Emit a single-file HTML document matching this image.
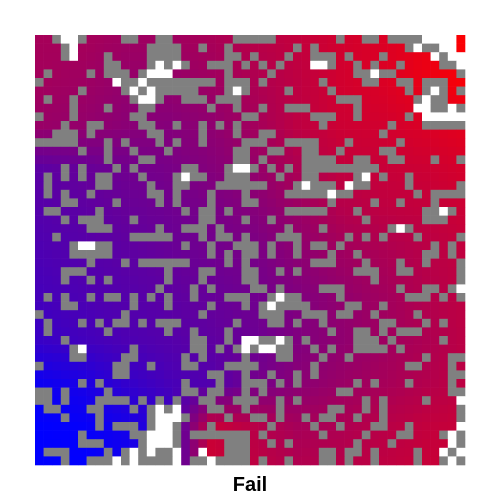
<!DOCTYPE html>
<html><head><meta charset="utf-8"><style>
html,body{margin:0;padding:0;background:#fff;width:500px;height:500px;overflow:hidden}
svg{display:block}
</style></head><body>
<svg id="chart" width="500" height="500">
<g id="cells"></g>
<text x="250" y="491" text-anchor="middle" font-family="Liberation Sans, sans-serif" font-weight="bold" font-size="20" fill="#000">Fail</text>
</svg>
<script>
// coarse value field nodes (0 = blue, 1 = red), 11x11 nodes every 5 cells
const valueNodes = [
[0.65,0.65,0.62,0.62,0.66,0.72,0.76,0.82,0.86,0.92,1.0],
[0.64,0.62,0.58,0.58,0.62,0.68,0.74,0.82,0.86,0.92,0.98],
[0.6,0.58,0.54,0.52,0.56,0.64,0.74,0.8,0.82,0.86,0.9],
[0.36,0.4,0.44,0.47,0.52,0.58,0.68,0.76,0.78,0.8,0.84],
[0.33,0.36,0.4,0.43,0.47,0.52,0.6,0.7,0.74,0.76,0.8],
[0.3,0.33,0.36,0.4,0.44,0.47,0.55,0.62,0.67,0.72,0.76],
[0.27,0.3,0.33,0.36,0.4,0.44,0.5,0.57,0.63,0.7,0.75],
[0.22,0.26,0.3,0.33,0.37,0.42,0.5,0.56,0.62,0.68,0.74],
[0.05,0.1,0.2,0.28,0.32,0.45,0.54,0.6,0.65,0.7,0.75],
[0.0,0.02,0.08,0.2,0.78,0.72,0.65,0.68,0.72,0.76,0.78],
[0.0,0.0,0.06,0.2,0.8,0.75,0.7,0.72,0.75,0.78,0.8]
];
// per-row obstacle (gray) columns | visited (white) columns
const cellRows = [
"2-5 10-11 14-15 23-27 35 38-39 41-44|3 4 45 46 47 48",
"3-4 13-16 19 22 30 32 43-46|4 44 47 48",
"3-4 8 13-16 22 23 25 29 32-34 36 40 46-49|4 46 48 49",
"8-9 13-17 20-22 24 26 28 32-34 37 39 42 47-49|14 16 32 33 49",
"1 6 8-10 12-15 22 27 37-41 49|13 14 15 39",
"0 9-11 12-19 20 22-24 26 33 38-39 42-43 45-47|9 12",
"5 10-18 22-24 29 34 43 45-47 49|11 13 23 46",
"1 4 11-14 17-19 21-22 23 35-37 44-47|12 13 45",
"4 8 12-13 20 23 26 29-31 37 44-49|44 45 48",
"0 4 11-12 24 25 32-34 37 43 45-49|45 46 47 48 49",
"3 6-7 12-13 16 19 21 23 33 41 45-49|",
"2-4 6 13-14 19 23 26-27 40|",
"0-4 8 10 14 16 19 24 25-26 29-32 36 42|",
"5 8 11 15 23-24 27-28 31-32 35 40-41|",
"8 12-13 23-24 26 31-34 37-38 41-42 46 49|",
"3 5 9 11 17-18 22-25 27 29 31-39|23 24",
"1 3 5 7-8 12 16-19 22-24 28 31-32 37-38 40 43|17 38",
"1 7-8 13 16-17 21-26 30-34 37-38 43 49|31 36",
"1 3 6 13-14 16 20 24 29-36 44 46-49|34",
"3-4 9 14 16 20 24-25 34 39 42 46|",
"1-2 7 17 19-20 22 29-33 37 45-48|47",
"3 5-7 11 19-20 24 27 38 45-47|",
"6-8 14 17-19 21 29 33 41-43|42",
"2 11-15 19 21-22 24 28-30 36 38 40 44 49|",
"4-8 17 20 23-25 27 30 32-33 35 46 48|5 6",
"4-8 20 22 24-25 27 30 34 37 45-46 48|",
"6 10 12-17 22 24 32-34 38 42 45 49|",
"3-5 15 19-20 24-25 28 30 37-39 42-43 49|",
"3 6 8 15 19 24-25 39 49|",
"14 18 20 25-26 28 33-35 42 45-46 48-49|49",
"1 3 6 8-9 11 13 15 18 22-24 27-30 35 43-45 47 49|28",
"3-4 11 15 20 24 26-31 36-37 40|27",
"0 10 19 26-28 31-33 35-36 39 44|",
"1 5 7 9-10 12 14-16 23 27-28 30 33 40-41 45 47|",
"1 8 15 18 22 34 37-38 40 42-44|",
"3 18-19 22 24-29 31 37-39 41 47|24 25 28",
"4-5 11 18-19 21 23-29 32 34 37-40 42|5 24 26 27",
"4-5 10-11 17 19 24 28-29 33 36 45 48-49|",
"0 9-10 13 17-18 22-25 32 43-44 48|",
"9-10 20-21 24 27 30 32 48-49|",
"5 7 17 21 24-26 28 30 37 39 43 48|",
"0-1 3 8 17-18 20-21 24 26 35-36 48-49|",
"0-1 3 7-10 12 14 16 19-20 23-25 28 30 38 40 45 49|49",
"1-2 6-7 11 13-16 20-21 24 28 34-35 38 40 49|14 16",
"3 7 13-17 22 25-26 28 31 33-34 37 40 49|14 15 16",
"7 9-11 13-16 20 27 32 35 39-40 43 49|14 15 49",
"5 11-16 18-24 26 33 38 42-43 47-49|13 14 15 48",
"5-7 12-16 22-24 27 29 37 41 48-49|13 14 15 48",
"1-3 8 10-16 19 22-24 33-34 36-37 39 44 47-49|11 13 16 19 47 49",
"3 6-16 18-24 26 29 33-34 36 39 44 47-49|9 11 16 20 48"
];

const N = 50, X0 = 35, Y0 = 35, S = 430 / N;
function xPos(c){ return X0 + c * S; }
function yPos(r){ return Y0 + r * S; }
function parseList(str){
  const out = new Set();
  str.trim().split(/\s+/).filter(Boolean).forEach(t => {
    const p = t.split('-').map(Number);
    if (p.length === 2) { for (let i = p[0]; i <= p[1]; i++) out.add(i); } else out.add(p[0]);
  });
  return out;
}
function valueAt(r, c){
  const fr = r / 5, fc = c / 5;
  const r0 = Math.min(9, Math.floor(fr)), c0 = Math.min(9, Math.floor(fc));
  const tr = fr - r0, tc = fc - c0;
  const a = valueNodes[r0][c0], b = valueNodes[r0][c0+1], d = valueNodes[r0+1][c0], e = valueNodes[r0+1][c0+1];
  return (a*(1-tc)+b*tc)*(1-tr) + (d*(1-tc)+e*tc)*tr;
}
function colorFor(v){
  v = Math.max(0, Math.min(1, v));
  return 'rgb(' + Math.round(255*v) + ',0,' + Math.round(255*(1-v)) + ')';
}
const g = document.getElementById('cells');
const NS = 'http://www.w3.org/2000/svg';
for (let r = 0; r < N; r++) {
  const parts = (cellRows[r] || '|').split('|');
  const gray = parseList(parts[0] || ''), white = parseList(parts[1] || '');
  for (let c = 0; c < N; c++) {
    const rect = document.createElementNS(NS, 'rect');
    rect.setAttribute('x', xPos(c).toFixed(2));
    rect.setAttribute('y', yPos(r).toFixed(2));
    rect.setAttribute('width', (S + 0.3).toFixed(2));
    rect.setAttribute('height', (S + 0.3).toFixed(2));
    let fill = colorFor(valueAt(r, c));
    if (gray.has(c)) fill = '#808080';
    if (white.has(c)) fill = '#ffffff';
    rect.setAttribute('fill', fill);
    
    
    g.appendChild(rect);
  }
}
</script>
</body></html>
